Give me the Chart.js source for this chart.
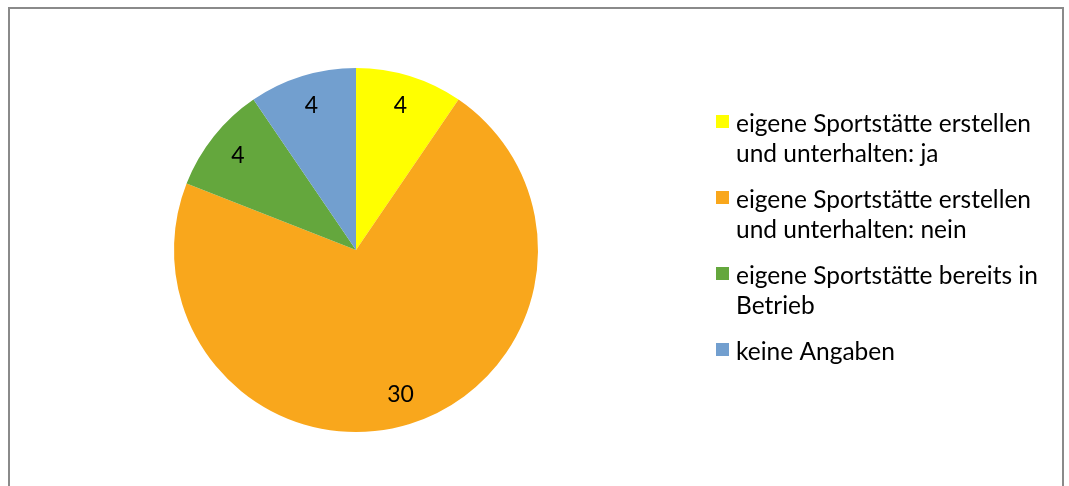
<!DOCTYPE html>
<html lang="de">
<head>
    <meta charset="UTF-8">
    <title>Eigene Sportstätte</title>
    <style>
        body {
            margin: 0;
            background: #fff;
            width: 1069px;
            height: 486px;
            overflow: hidden;
            font-family: Lato, 'Open Sans', sans-serif;
        }
        .frame {
            position: absolute;
            left: 8px;
            top: 7px;
            width: 1052px;
            height: 520px;
            border: 2px solid #8a8a8a;
        }
        #chart-wrap {
            position: absolute;
            left: 0;
            top: 0;
            width: 1069px;
            height: 486px;
        }
    </style>
    <script src="https://cdn.jsdelivr.net/npm/chart.js"></script>
</head>
<body>
    <div class="frame"></div>
    <div id="chart-wrap"><canvas id="pie"></canvas></div>
    <script>
        // chart data
        const categories = [
            ['eigene Sportstätte erstellen', 'und unterhalten: ja'],
            ['eigene Sportstätte erstellen', 'und unterhalten: nein'],
            ['eigene Sportstätte bereits in', 'Betrieb'],
            ['keine Angaben']
        ];
        const counts = [4, 30, 4, 4];
        const sliceColors = ['#ffff00', '#f9a71c', '#64a73d', '#729fcf'];

        const FONT = 'Lato, "Open Sans", sans-serif';

        // value labels inside the slices
        const sliceLabels = {
            id: 'sliceLabels',
            afterDatasetsDraw(chart) {
                const ctx = chart.ctx;
                const meta = chart.getDatasetMeta(0);
                ctx.save();
                ctx.font = '23px ' + FONT;
                ctx.fillStyle = '#000';
                ctx.textAlign = 'center';
                ctx.textBaseline = 'middle';
                meta.data.forEach((arc, i) => {
                    const p = arc.getProps(['x', 'y', 'startAngle', 'endAngle', 'outerRadius'], true);
                    const mid = (p.startAngle + p.endAngle) / 2;
                    const r = p.outerRadius * 0.83;
                    ctx.fillText(String(counts[i]), p.x + Math.cos(mid) * r, p.y + Math.sin(mid) * r);
                });
                ctx.restore();
            }
        };

        // legend on the right, box next to the first line of each entry
        const sideLegend = {
            id: 'sideLegend',
            afterDraw(chart) {
                const ctx = chart.ctx;
                const boxX = 716, textX = 736, lineH = 30, gap = 16;
                let baseline = 132;
                ctx.save();
                ctx.font = '24.5px ' + FONT;
                ctx.textBaseline = 'alphabetic';
                chart.data.labels.forEach((lines, i) => {
                    ctx.fillStyle = sliceColors[i];
                    ctx.fillRect(boxX, baseline - 17, 13, 13);
                    ctx.fillStyle = '#000';
                    lines.forEach((line, j) => {
                        ctx.fillText(line, textX, baseline + j * lineH);
                    });
                    baseline += lines.length * lineH + gap;
                });
                ctx.restore();
            }
        };

        new Chart(document.getElementById('pie'), {
            type: 'pie',
            data: {
                labels: categories,
                datasets: [{
                    data: counts,
                    backgroundColor: sliceColors,
                    borderWidth: 0
                }]
            },
            options: {
                responsive: true,
                maintainAspectRatio: false,
                animation: false,
                layout: {
                    padding: { left: 174, right: 531, top: 68, bottom: 54 }
                },
                plugins: {
                    legend: { display: false },
                    tooltip: { enabled: false }
                }
            },
            plugins: [sliceLabels, sideLegend]
        });
    </script>
</body>
</html>
